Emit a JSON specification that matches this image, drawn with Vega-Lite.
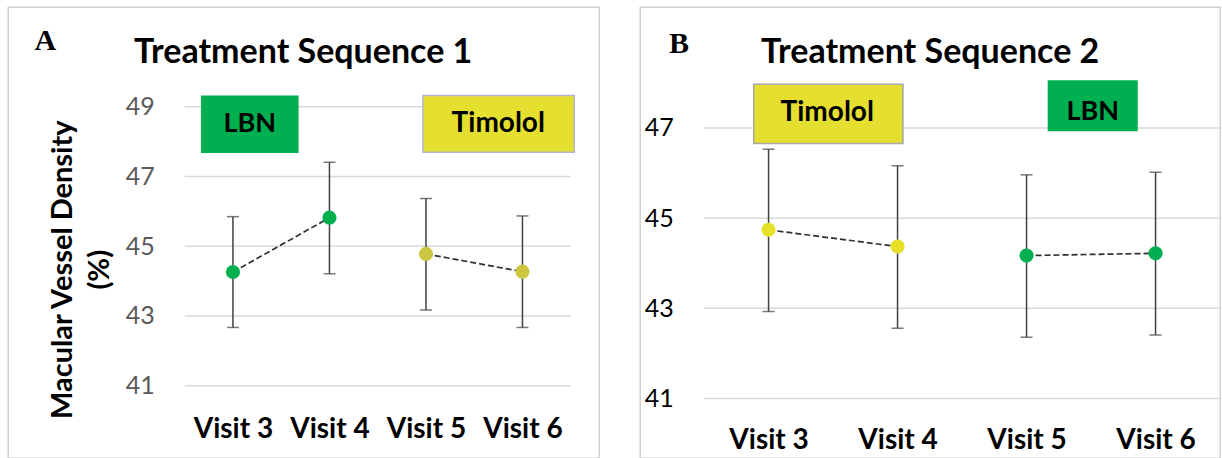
{
  "$schema": "https://vega.github.io/schema/vega-lite/v6.json",
  "autosize": {"type": "pad"},
  "padding": {"left": 7.25, "top": 6.25, "right": 0, "bottom": 0},
  "background": "white",
  "spacing": 41,
  "bounds": "flush",
  "config": {
    "view": {"stroke": "#D0D0D0", "strokeWidth": 1.5},
    "font": "Lato"
  },
  "resolve": {"scale": {"color": "independent"}},
  "hconcat": [
    {
      "width": 591,
      "height": 451,
      "layer": [
        {
          "data": {"values": [{"v": 41}, {"v": 43}, {"v": 45}, {"v": 47}, {"v": 49}]},
          "mark": {"type": "rule", "color": "#D9D9D9", "strokeWidth": 1.5},
          "encoding": {
            "x": {"datum": 2.5, "type": "quantitative"},
            "x2": {"datum": 6.5},
            "y": {"field": "v", "type": "quantitative"}
          }
        },
        {
          "data": {"values": [{}]},
          "mark": {"type": "rect", "fill": "#00B050"},
          "encoding": {"x": {"datum": 2.668, "type": "quantitative"}, "x2": {"datum": 3.68}, "y": {"datum": 49.324, "type": "quantitative"}, "y2": {"datum": 47.677}}
        },
        {
          "data": {"values": [{}]},
          "mark": {"type": "rect", "fill": "#E5E030", "stroke": "#B4B4CC", "strokeWidth": 1.5},
          "encoding": {"x": {"datum": 4.969, "type": "quantitative"}, "x2": {"datum": 6.537}, "y": {"datum": 49.324, "type": "quantitative"}, "y2": {"datum": 47.697}}
        },
        {
          "data": {"values": [{}]},
          "mark": {"type": "text", "text": "LBN", "font": "Lato", "fontSize": 27, "fontWeight": "bold", "color": "#000000", "align": "center", "baseline": "middle"},
          "encoding": {"x": {"datum": 3.174, "type": "quantitative"}, "y": {"datum": 48.5, "type": "quantitative"}}
        },
        {
          "data": {"values": [{}]},
          "mark": {"type": "text", "text": "Timolol", "font": "Lato", "fontSize": 28, "fontWeight": "bold", "color": "#000000", "align": "center", "baseline": "middle"},
          "encoding": {"x": {"datum": 5.749, "type": "quantitative"}, "y": {"datum": 48.5, "type": "quantitative"}}
        },
        {
          "data": {"values": [{}]},
          "mark": {"type": "text", "text": "Treatment Sequence 1", "font": "Lato", "fontSize": 34, "fontWeight": "bold", "color": "#000000", "align": "center", "baseline": "alphabetic"},
          "encoding": {"x": {"datum": 3.728, "type": "quantitative"}, "y": {"datum": 50.251, "type": "quantitative"}}
        },
        {
          "data": {"values": [{}]},
          "mark": {"type": "text", "text": "A", "font": "Liberation Serif", "fontSize": 30, "fontWeight": "bold", "color": "#000000", "align": "center", "baseline": "alphabetic"},
          "encoding": {"x": {"datum": 1.055, "type": "quantitative"}, "y": {"datum": 50.624, "type": "quantitative"}}
        },
        {
          "data": {"values": [
            {"visit": 3, "v": 44.26, "lo": 42.67, "hi": 45.85, "drug": "LBN"},
            {"visit": 4, "v": 45.82, "lo": 44.21, "hi": 47.41, "drug": "LBN"},
            {"visit": 5, "v": 44.78, "lo": 43.17, "hi": 46.37, "drug": "Timolol"},
            {"visit": 6, "v": 44.27, "lo": 42.67, "hi": 45.87, "drug": "Timolol"}
          ]},
          "encoding": {
            "x": {"field": "visit", "type": "quantitative",
              "scale": {"domain": [0.6715, 6.7956], "nice": false, "zero": false},
              "axis": {"values": [3, 4, 5, 6], "labelExpr": "'Visit ' + datum.value", "grid": false, "domain": false, "ticks": false, "tickSize": 0, "labelPadding": 0, "offset": -21, "labelBaseline": "alphabetic", "labelFontSize": 28, "labelFontWeight": "bold", "labelColor": "#000000", "labelFlush": false, "labelOverlap": false, "title": null}},
            "y": {"field": "v", "type": "quantitative",
              "scale": {"domain": [38.917, 51.858], "nice": false, "zero": false},
              "axis": {"values": [41, 43, 45, 47, 49], "grid": false, "domain": false, "ticks": false, "tickSize": 0, "labelPadding": 0, "offset": -146, "labelFontSize": 25, "labelColor": "#595959", "labelFlush": false, "labelOverlap": false,
                "title": ["Macular Vessel Density", "(%)"], "titleFontSize": 29, "titleFontWeight": "bold", "titleColor": "#000000", "titleAngle": 270, "titleBaseline": "alphabetic", "titleAlign": "center", "titleLineHeight": 37, "titleX": -83, "titleY": 262}}
          },
          "layer": [
            {
              "mark": {"type": "rule", "color": "#404040", "strokeWidth": 1.5},
              "encoding": {"y": {"field": "lo", "type": "quantitative"}, "y2": {"field": "hi"}}
            },
            {
              "mark": {"type": "tick", "orient": "horizontal", "size": 12, "thickness": 1.5, "color": "#404040"},
              "encoding": {"y": {"field": "lo", "type": "quantitative"}}
            },
            {
              "mark": {"type": "tick", "orient": "horizontal", "size": 12, "thickness": 1.5, "color": "#404040"},
              "encoding": {"y": {"field": "hi", "type": "quantitative"}}
            },
            {
              "mark": {"type": "line", "strokeDash": [6, 3], "color": "#303030", "strokeWidth": 1.7},
              "encoding": {"detail": {"field": "drug", "type": "nominal"}}
            },
            {
              "mark": {"type": "point", "filled": true, "opacity": 1, "size": 200},
              "encoding": {"color": {"field": "drug", "type": "nominal", "scale": {"domain": ["LBN", "Timolol"], "range": ["#00B050", "#CCC640"]}, "legend": null}}
            }
          ]
        }
      ]
    },
    {
      "width": 580,
      "height": 451,
      "layer": [
        {
          "data": {"values": [{"v": 41}, {"v": 43}, {"v": 45}, {"v": 47}]},
          "mark": {"type": "rule", "color": "#D9D9D9", "strokeWidth": 1.5},
          "encoding": {
            "x": {"datum": 2.5, "type": "quantitative"},
            "x2": {"datum": 6.5},
            "y": {"field": "v", "type": "quantitative"}
          }
        },
        {
          "data": {"values": [{}]},
          "mark": {"type": "rect", "fill": "#E5E030", "stroke": "#A8A8A8", "strokeWidth": 1.5},
          "encoding": {"x": {"datum": 2.885, "type": "quantitative"}, "x2": {"datum": 4.042}, "y": {"datum": 47.969, "type": "quantitative"}, "y2": {"datum": 46.654}}
        },
        {
          "data": {"values": [{}]},
          "mark": {"type": "rect", "fill": "#00B050"},
          "encoding": {"x": {"datum": 5.164, "type": "quantitative"}, "x2": {"datum": 5.862}, "y": {"datum": 48.057, "type": "quantitative"}, "y2": {"datum": 46.927}}
        },
        {
          "data": {"values": [{}]},
          "mark": {"type": "text", "text": "Timolol", "font": "Lato", "fontSize": 28, "fontWeight": "bold", "color": "#000000", "align": "center", "baseline": "middle"},
          "encoding": {"x": {"datum": 3.455, "type": "quantitative"}, "y": {"datum": 47.326, "type": "quantitative"}}
        },
        {
          "data": {"values": [{}]},
          "mark": {"type": "text", "text": "LBN", "font": "Lato", "fontSize": 27, "fontWeight": "bold", "color": "#000000", "align": "center", "baseline": "middle"},
          "encoding": {"x": {"datum": 5.513, "type": "quantitative"}, "y": {"datum": 47.355, "type": "quantitative"}}
        },
        {
          "data": {"values": [{}]},
          "mark": {"type": "text", "text": "Treatment Sequence 2", "font": "Lato", "fontSize": 34, "fontWeight": "bold", "color": "#000000", "align": "center", "baseline": "alphabetic"},
          "encoding": {"x": {"datum": 4.253, "type": "quantitative"}, "y": {"datum": 48.434, "type": "quantitative"}}
        },
        {
          "data": {"values": [{}]},
          "mark": {"type": "text", "text": "B", "font": "Liberation Serif", "fontSize": 30, "fontWeight": "bold", "color": "#000000", "align": "center", "baseline": "alphabetic"},
          "encoding": {"x": {"datum": 2.305, "type": "quantitative"}, "y": {"datum": 48.663, "type": "quantitative"}}
        },
        {
          "data": {"values": [
            {"visit": 3, "v": 44.74, "lo": 42.93, "hi": 46.53, "drug": "Timolol"},
            {"visit": 4, "v": 44.37, "lo": 42.56, "hi": 46.16, "drug": "Timolol"},
            {"visit": 5, "v": 44.17, "lo": 42.36, "hi": 45.96, "drug": "LBN"},
            {"visit": 6, "v": 44.22, "lo": 42.41, "hi": 46.02, "drug": "LBN"}
          ]},
          "encoding": {
            "x": {"field": "visit", "type": "quantitative",
              "scale": {"domain": [2.0054, 6.5016], "nice": false, "zero": false},
              "axis": {"values": [3, 4, 5, 6], "labelExpr": "'Visit ' + datum.value", "grid": false, "domain": false, "ticks": false, "tickSize": 0, "labelPadding": 0, "offset": -10, "labelBaseline": "alphabetic", "labelFontSize": 28, "labelFontWeight": "bold", "labelColor": "#000000", "labelFlush": false, "labelOverlap": false, "title": null}},
            "y": {"field": "v", "type": "quantitative",
              "scale": {"domain": [39.676, 49.676], "nice": false, "zero": false},
              "axis": {"values": [41, 43, 45, 47], "grid": false, "domain": false, "ticks": false, "tickSize": 0, "labelPadding": 0, "offset": -33, "labelFontSize": 25, "labelColor": "#000000", "labelFlush": false, "labelOverlap": false, "title": null}}
          },
          "layer": [
            {
              "mark": {"type": "rule", "color": "#404040", "strokeWidth": 1.5},
              "encoding": {"y": {"field": "lo", "type": "quantitative"}, "y2": {"field": "hi"}}
            },
            {
              "mark": {"type": "tick", "orient": "horizontal", "size": 12, "thickness": 1.5, "color": "#404040"},
              "encoding": {"y": {"field": "lo", "type": "quantitative"}}
            },
            {
              "mark": {"type": "tick", "orient": "horizontal", "size": 12, "thickness": 1.5, "color": "#404040"},
              "encoding": {"y": {"field": "hi", "type": "quantitative"}}
            },
            {
              "mark": {"type": "line", "strokeDash": [6, 3], "color": "#303030", "strokeWidth": 1.7},
              "encoding": {"detail": {"field": "drug", "type": "nominal"}}
            },
            {
              "mark": {"type": "point", "filled": true, "opacity": 1, "size": 200},
              "encoding": {"color": {"field": "drug", "type": "nominal", "scale": {"domain": ["LBN", "Timolol"], "range": ["#00B050", "#E6E028"]}, "legend": null}}
            }
          ]
        }
      ]
    }
  ]
}
